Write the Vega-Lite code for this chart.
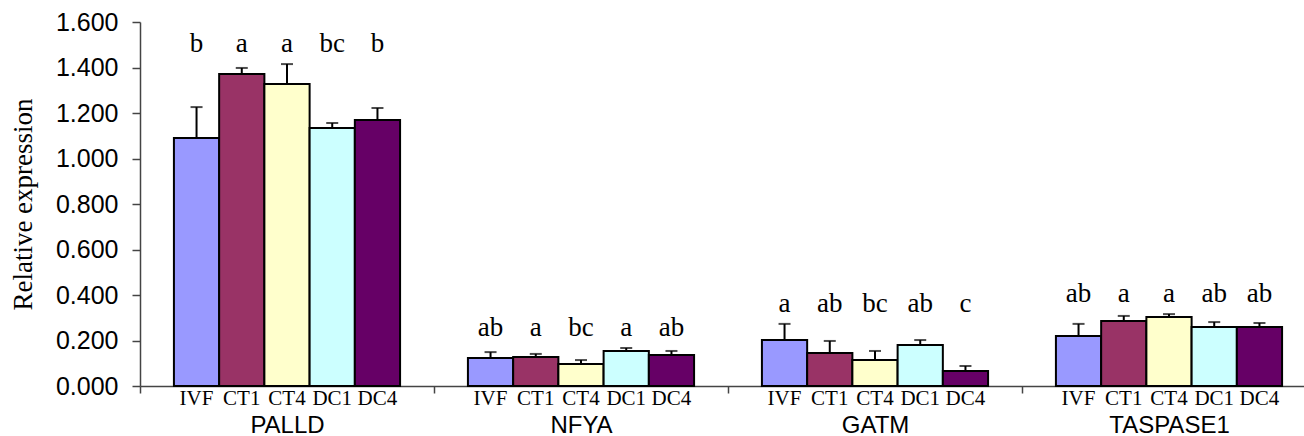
{
  "$schema": "https://vega.github.io/schema/vega-lite/v6.json",
  "autosize": {"type": "none"},
  "padding": {"left": 140, "top": 22, "right": 0, "bottom": 50},
  "width": 1164,
  "height": 364,
  "background": "white",
  "config": {"view": {"stroke": null}},
  "data": {
    "values": [
      {"gene": "PALLD", "trt": "IVF", "mean": 1.090, "upper": 1.226, "letter": "b"},
      {"gene": "PALLD", "trt": "CT1", "mean": 1.371, "upper": 1.398, "letter": "a"},
      {"gene": "PALLD", "trt": "CT4", "mean": 1.327, "upper": 1.415, "letter": "a"},
      {"gene": "PALLD", "trt": "DC1", "mean": 1.134, "upper": 1.156, "letter": "bc"},
      {"gene": "PALLD", "trt": "DC4", "mean": 1.169, "upper": 1.222, "letter": "b"},
      {"gene": "NFYA", "trt": "IVF", "mean": 0.123, "upper": 0.149, "letter": "ab"},
      {"gene": "NFYA", "trt": "CT1", "mean": 0.127, "upper": 0.141, "letter": "a"},
      {"gene": "NFYA", "trt": "CT4", "mean": 0.097, "upper": 0.114, "letter": "bc"},
      {"gene": "NFYA", "trt": "DC1", "mean": 0.154, "upper": 0.167, "letter": "a"},
      {"gene": "NFYA", "trt": "DC4", "mean": 0.136, "upper": 0.154, "letter": "ab"},
      {"gene": "GATM", "trt": "IVF", "mean": 0.202, "upper": 0.273, "letter": "a"},
      {"gene": "GATM", "trt": "CT1", "mean": 0.145, "upper": 0.198, "letter": "ab"},
      {"gene": "GATM", "trt": "CT4", "mean": 0.114, "upper": 0.154, "letter": "bc"},
      {"gene": "GATM", "trt": "DC1", "mean": 0.180, "upper": 0.202, "letter": "ab"},
      {"gene": "GATM", "trt": "DC4", "mean": 0.066, "upper": 0.088, "letter": "c"},
      {"gene": "TASPASE1", "trt": "IVF", "mean": 0.220, "upper": 0.273, "letter": "ab"},
      {"gene": "TASPASE1", "trt": "CT1", "mean": 0.286, "upper": 0.308, "letter": "a"},
      {"gene": "TASPASE1", "trt": "CT4", "mean": 0.303, "upper": 0.316, "letter": "a"},
      {"gene": "TASPASE1", "trt": "DC1", "mean": 0.259, "upper": 0.281, "letter": "ab"},
      {"gene": "TASPASE1", "trt": "DC4", "mean": 0.259, "upper": 0.277, "letter": "ab"}
    ]
  },
  "encoding": {
    "x": {
      "field": "gene",
      "type": "nominal",
      "sort": ["PALLD", "NFYA", "GATM", "TASPASE1"],
      "scale": {"range": [0, 1176], "paddingInner": 0, "paddingOuter": 0},
      "axis": {
        "title": null,
        "labelAngle": 0,
        "labelFont": "Liberation Sans",
        "labelFontSize": 24,
        "labelColor": "black",
        "labelBaseline": "alphabetic",
        "labelPadding": 39,
        "tickBand": "extent",
        "tickSize": 7,
        "tickColor": "#444",
        "tickWidth": 1.5,
        "domainColor": "#444",
        "domainWidth": 1.5
      }
    },
    "xOffset": {
      "field": "trt",
      "type": "nominal",
      "sort": ["IVF", "CT1", "CT4", "DC1", "DC4"],
      "scale": {"paddingInner": 0, "paddingOuter": 0.75}
    }
  },
  "layer": [
    {
      "mark": {"type": "bar", "stroke": "black", "strokeWidth": 2},
      "encoding": {
        "y": {
          "field": "mean",
          "type": "quantitative",
          "scale": {"domain": [0, 1.6], "nice": false},
          "axis": {
            "title": "Relative expression",
            "titleFont": "Liberation Serif",
            "titleFontSize": 27,
            "titleFontWeight": "normal",
            "titleColor": "black",
            "titlePadding": 18,
            "values": [0, 0.2, 0.4, 0.6, 0.8, 1.0, 1.2, 1.4, 1.6],
            "format": ".3f",
            "labelFont": "Liberation Sans",
            "labelFontSize": 25,
            "labelColor": "black",
            "labelPadding": 14,
            "tickSize": 8,
            "tickColor": "#444",
            "tickWidth": 1.5,
            "domainColor": "#444",
            "domainWidth": 1.5,
            "grid": false
          }
        },
        "fill": {
          "field": "trt",
          "type": "nominal",
          "scale": {
            "domain": ["IVF", "CT1", "CT4", "DC1", "DC4"],
            "range": ["#9999FF", "#993366", "#FFFFCC", "#CCFFFF", "#660066"]
          },
          "legend": null
        }
      }
    },
    {
      "mark": {"type": "rule", "color": "black", "strokeWidth": 2},
      "encoding": {
        "y": {"field": "mean", "type": "quantitative"},
        "y2": {"field": "upper"}
      }
    },
    {
      "mark": {"type": "tick", "color": "black", "size": 12, "thickness": 2},
      "encoding": {
        "y": {"field": "upper", "type": "quantitative"}
      }
    },
    {
      "transform": [
        {"joinaggregate": [{"op": "max", "field": "upper", "as": "maxUp"}], "groupby": ["gene"]}
      ],
      "mark": {"type": "text", "font": "Liberation Serif", "fontSize": 27, "color": "black", "baseline": "alphabetic", "dy": -12},
      "encoding": {
        "y": {"field": "maxUp", "type": "quantitative"},
        "text": {"field": "letter"}
      }
    },
    {
      "mark": {"type": "text", "font": "Liberation Serif", "fontSize": 21, "color": "black", "baseline": "alphabetic", "dy": 19},
      "encoding": {
        "y": {"datum": 0},
        "text": {"field": "trt"}
      }
    }
  ]
}
